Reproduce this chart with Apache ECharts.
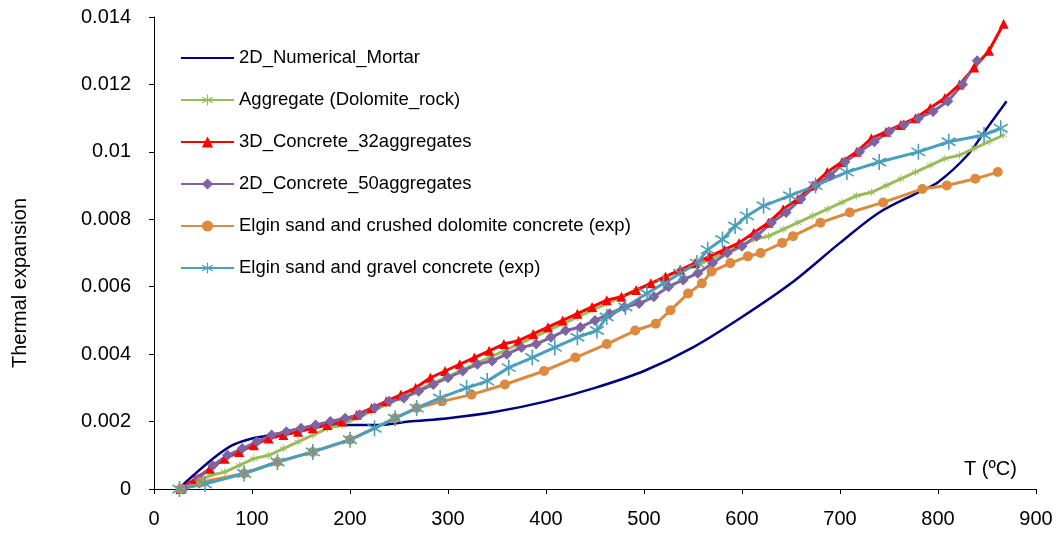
<!DOCTYPE html>
<html>
<head>
<meta charset="utf-8">
<script src="https://cdn.jsdelivr.net/npm/echarts@6/dist/echarts.min.js"></script>
<style>
  html, body { margin: 0; padding: 0; background: #fff; }
  #chart { width: 1059px; height: 538px; }
</style>
</head>
<body>
<div id="chart"></div>
<script>
// temperatures (ºC) and thermal expansion
const mortarT = [25, 40, 60, 80, 100, 120, 150, 180, 200, 230, 260, 300, 350, 400, 450, 500, 550, 600, 650, 700, 740, 780, 800, 830, 850, 870]
const mortarV = [0, 0.0004, 0.0009, 0.0013, 0.0015, 0.0016, 0.0018, 0.0019, 0.0019, 0.0019, 0.002, 0.0021, 0.0023, 0.0026, 0.003, 0.0035, 0.0042, 0.0051, 0.0061, 0.0073, 0.0082, 0.0088, 0.0091, 0.0099, 0.0107, 0.0115]

const dolomiteT = [27, 42, 57, 72, 87, 102, 117, 132, 147, 162, 177, 192, 207, 222, 237, 252, 267, 282, 297, 312, 327, 342, 357, 372, 387, 402, 417, 432, 447, 462, 477, 492, 507, 522, 537, 552, 567, 582, 597, 612, 627, 642, 657, 672, 687, 702, 717, 732, 747, 762, 777, 792, 807, 822, 837, 852, 867]
const dolomiteV = [0, 0.0002, 0.0004, 0.0005, 0.0007, 0.0009, 0.001, 0.0012, 0.0014, 0.0016, 0.0018, 0.0019, 0.0021, 0.0023, 0.0025, 0.0027, 0.0029, 0.0031, 0.0033, 0.0035, 0.0037, 0.0039, 0.0041, 0.0043, 0.0045, 0.0047, 0.0049, 0.0051, 0.0053, 0.0055, 0.0057, 0.0059, 0.0061, 0.0063, 0.0065, 0.0066, 0.0068, 0.007, 0.0072, 0.0074, 0.0075, 0.0077, 0.0079, 0.0081, 0.0083, 0.0085, 0.0087, 0.0088, 0.009, 0.0092, 0.0094, 0.0096, 0.0098, 0.0099, 0.0101, 0.0103, 0.0105]

const concrete3dT = [27, 42, 57, 72, 87, 102, 117, 132, 147, 162, 177, 192, 207, 222, 237, 252, 267, 282, 297, 312, 327, 342, 357, 372, 387, 402, 417, 432, 447, 462, 477, 492, 507, 522, 537, 552, 567, 582, 597, 612, 627, 642, 657, 672, 687, 702, 717, 732, 747, 762, 777, 792, 807, 822, 837, 852, 867]
const concrete3dV = [0, 0.0003, 0.0006, 0.0009, 0.0011, 0.0013, 0.0015, 0.0016, 0.0017, 0.0018, 0.0019, 0.002, 0.0022, 0.0024, 0.0026, 0.0028, 0.003, 0.0033, 0.0035, 0.0037, 0.0039, 0.0041, 0.0043, 0.0044, 0.0046, 0.0048, 0.005, 0.0052, 0.0054, 0.0056, 0.0057, 0.0059, 0.0061, 0.0063, 0.0065, 0.0067, 0.0069, 0.0071, 0.0073, 0.0076, 0.0079, 0.0083, 0.0086, 0.009, 0.0094, 0.0097, 0.01, 0.0104, 0.0106, 0.0108, 0.011, 0.0113, 0.0116, 0.012, 0.0125, 0.013, 0.0138]

const concrete2dT = [30, 45, 60, 75, 90, 105, 120, 135, 150, 165, 180, 195, 210, 225, 240, 255, 270, 285, 300, 315, 330, 345, 360, 375, 390, 405, 420, 435, 450, 465, 480, 495, 510, 525, 540, 555, 570, 585, 600, 615, 630, 645, 660, 675, 690, 705, 720, 735, 750, 765, 780, 795, 810, 825, 840]
const concrete2dV = [0, 0.0003, 0.0007, 0.001, 0.0012, 0.0014, 0.0016, 0.0017, 0.0018, 0.0019, 0.002, 0.0021, 0.0022, 0.0024, 0.0026, 0.0027, 0.0029, 0.0031, 0.0033, 0.0035, 0.0037, 0.0038, 0.004, 0.0042, 0.0043, 0.0045, 0.0047, 0.0048, 0.005, 0.0052, 0.0054, 0.0055, 0.0057, 0.006, 0.0062, 0.0064, 0.0067, 0.007, 0.0072, 0.0075, 0.0079, 0.0082, 0.0086, 0.009, 0.0093, 0.0097, 0.01, 0.0103, 0.0106, 0.0108, 0.011, 0.0112, 0.0115, 0.012, 0.0127]

const crushedT = [27, 48, 92, 126, 162, 200, 246, 268, 294, 324, 358, 398, 430, 462, 491, 512, 527, 545, 559, 569, 588, 606, 619, 641, 652, 680, 710, 744, 784, 809, 838, 861]
const crushedV = [0, 0.0002, 0.00046, 0.0008, 0.0011, 0.00146, 0.0021, 0.0024, 0.0026, 0.0028, 0.0031, 0.0035, 0.0039, 0.0043, 0.0047, 0.0049, 0.0053, 0.0058, 0.0061, 0.00645, 0.0067, 0.0069, 0.007, 0.0073, 0.0075, 0.0079, 0.0082, 0.0085, 0.0089, 0.009, 0.0092, 0.0094]

const gravelT = [26, 52, 92, 126, 162, 200, 225, 246, 268, 292, 319, 340, 362, 386, 409, 432, 452, 462, 481, 503, 520, 537, 554, 565, 580, 593, 605, 622, 649, 675, 707, 740, 780, 811, 847, 864]
const gravelV = [0, 0.00015, 0.00046, 0.0008, 0.0011, 0.00146, 0.0018, 0.0021, 0.0024, 0.0027, 0.003, 0.0032, 0.0036, 0.0039, 0.0042, 0.0045, 0.0047, 0.0051, 0.0054, 0.0058, 0.0061, 0.0064, 0.0067, 0.0071, 0.0074, 0.0078, 0.0081, 0.0084, 0.0087, 0.009, 0.0094, 0.0097, 0.01, 0.0103, 0.0105, 0.0107]

const pairs = (xs, ys) => xs.map((x, i) => [x, ys[i]])

// asterisk marker like the excel "star"
const star = 'path://M-1,-10L1,-10L1,10L-1,10Z M8.16,5.87L9.16,4.13L-8.16,-5.87L-9.16,-4.13Z M9.16,-4.13L8.16,-5.87L-9.16,4.13L-8.16,5.87Z'

const font = 'Liberation Sans, Arial, sans-serif'

let mychart = echarts.init(document.getElementById('chart'))
mychart.setOption({
    animation: false,
    backgroundColor: '#fff',
    grid: { left: 154, right: 23, top: 17, bottom: 49 },
    legend: {
        orient: 'vertical',
        left: 175,
        top: 43,
        itemWidth: 53,
        itemHeight: 14,
        itemGap: 22,
        textStyle: { fontFamily: font, fontSize: 18.5, color: '#000', lineHeight: 20 },
        data: ['2D_Numerical_Mortar', 'Aggregate (Dolomite_rock)', '3D_Concrete_32aggregates', '2D_Concrete_50aggregates',
            'Elgin sand and crushed dolomite concrete (exp)', 'Elgin sand and gravel concrete (exp)']
    },
    xAxis: {
        type: 'value',
        min: 0,
        max: 900,
        interval: 100,
        name: 'T (ºC)',
        nameLocation: 'end',
        nameGap: -72,
        nameTextStyle: { fontFamily: font, fontSize: 20, color: '#000', verticalAlign: 'bottom', padding: [0, 0, 10, 0] },
        axisLine: { lineStyle: { color: '#000', width: 1 } },
        axisTick: { show: true, inside: false, length: 5, lineStyle: { color: '#000' } },
        axisLabel: { fontFamily: font, fontSize: 20, color: '#000', margin: 20 },
        splitLine: { show: false }
    },
    yAxis: {
        type: 'value',
        min: 0,
        max: 0.014,
        interval: 0.002,
        axisLine: { show: true, lineStyle: { color: '#000', width: 1 } },
        axisTick: { show: true, inside: false, length: 5, lineStyle: { color: '#000' } },
        axisLabel: {
            fontFamily: font, fontSize: 20, color: '#000', margin: 23,
            formatter: (v) => String(+v.toFixed(3))
        },
        splitLine: { show: false }
    },
    graphic: [{
        type: 'text',
        x: 20,
        y: 283,
        rotation: Math.PI / 2,
        style: {
            text: 'Thermal expansion',
            fontFamily: font,
            fontSize: 20,
            fill: '#000',
            align: 'center',
            verticalAlign: 'middle'
        }
    }],
    series: [
        {
            name: '2D_Numerical_Mortar',
            type: 'line',
            data: pairs(mortarT, mortarV),
            smooth: 0.3,
            symbol: 'circle',
            symbolSize: 0,
            showSymbol: false,
            lineStyle: { color: '#000080', width: 2.5 },
            itemStyle: { color: '#000080', opacity: 0 }
        },
        {
            name: 'Aggregate (Dolomite_rock)',
            type: 'line',
            data: pairs(dolomiteT, dolomiteV),
            symbol: star,
            symbolSize: 8,
            symbolKeepAspect: true,
            lineStyle: { color: '#9BBB59', width: 3 },
            itemStyle: { color: '#9BBB59' }
        },
        {
            name: '3D_Concrete_32aggregates',
            type: 'line',
            data: pairs(concrete3dT, concrete3dV),
            symbol: 'triangle',
            symbolSize: 10,
            lineStyle: { color: '#FF0000', width: 3 },
            itemStyle: { color: '#FF0000' }
        },
        {
            name: '2D_Concrete_50aggregates',
            type: 'line',
            data: pairs(concrete2dT, concrete2dV),
            symbol: 'diamond',
            symbolSize: 11,
            lineStyle: { color: '#7F62A0', width: 3 },
            itemStyle: { color: '#7F62A0' }
        },
        {
            name: 'Elgin sand and crushed dolomite concrete (exp)',
            type: 'line',
            data: pairs(crushedT, crushedV),
            symbol: 'circle',
            symbolSize: 10,
            lineStyle: { color: '#DE8A3E', width: 3 },
            itemStyle: { color: '#DE8A3E' }
        },
        {
            name: 'Elgin sand and gravel concrete (exp)',
            type: 'line',
            data: pairs(gravelT, gravelV),
            symbol: star,
            symbolSize: 16,
            symbolKeepAspect: true,
            lineStyle: { color: '#4A9FBA', width: 3 },
            itemStyle: { color: '#4A9FBA' }
        }
    ]
})
</script>
</body>
</html>
